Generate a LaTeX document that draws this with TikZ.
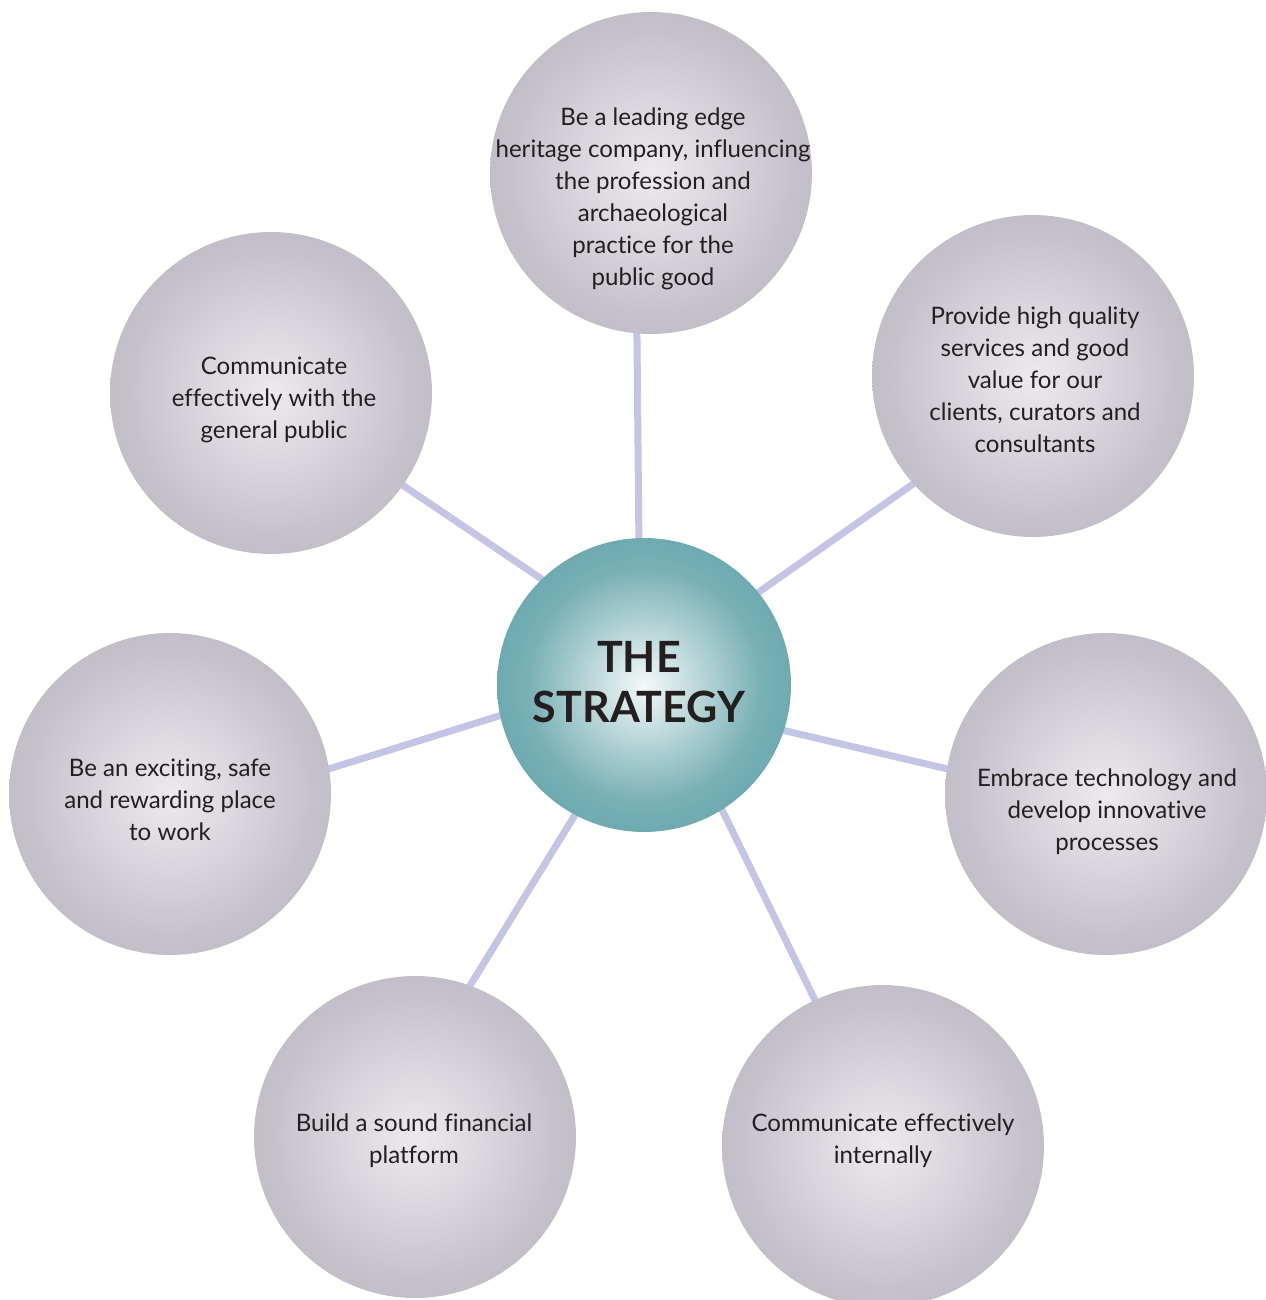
\documentclass[tikz,border=0pt]{standalone}
\usepackage{fontspec}
\setmainfont{Lato}[Ligatures=NoCommon]
\usetikzlibrary{backgrounds}
\definecolor{gc}{HTML}{ECEAEE}
\definecolor{gm}{HTML}{C6C2CC}
\definecolor{ge}{HTML}{A59FB1}
\definecolor{tc}{HTML}{F4F8F8}
\definecolor{tm}{HTML}{78B0B5}
\definecolor{te}{HTML}{3A9097}
\definecolor{linkc}{HTML}{C2C5E4}
\definecolor{txt}{HTML}{231F20}
\pgfdeclareradialshading{greyball}{\pgfpoint{0bp}{0bp}}{color(0bp)=(gc); color(22bp)=(gm); color(50bp)=(ge); color(100bp)=(ge)}
\pgfdeclareradialshading{tealball}{\pgfpoint{0bp}{0bp}}{color(0bp)=(tc); color(20bp)=(tm); color(50bp)=(te); color(100bp)=(te)}
\tikzset{
  outer/.style={circle, minimum size=6.44cm, inner sep=0pt, shading=greyball},
  hub/.style={circle, minimum size=5.88cm, inner sep=0pt, shading=tealball},
  lbl/.style={align=center, text=txt, font=\fontsize{13.7}{18.2}\selectfont, inner sep=0pt},
  ttl/.style={align=center, text=txt, font=\fontsize{24.5}{28.5}\selectfont\bfseries, inner sep=0pt},
  link/.style={draw=linkc, line width=0.14cm, shorten <=-4pt, shorten >=-4pt}
}
\begin{document}
\begin{tikzpicture}[x=0.02cm, y=-0.02cm]
\path[use as bounding box] (0,0) rectangle (1266,1300);
\clip (0,0) rectangle (1266,1300);
\node[hub] (c) at (644,685) {};
\node[outer] (t) at (651,173) {};
\node[outer] (ur) at (1033,376) {};
\node[outer] (r) at (1106,794) {};
\node[outer] (br) at (883,1146) {};
\node[outer] (bl) at (415,1137) {};
\node[outer] (l) at (170,794) {};
\node[outer] (ul) at (271,393) {};
\begin{pgfonlayer}{background}
\draw[link] (c.92.3) -- (t.265.4);
\draw[link] (c.39.9) -- (ur.222.8);
\draw[link] (c.342) -- (r.171.5);
\draw[link] (c.302.5) -- (br.115.6);
\draw[link] (c.242) -- (bl.70);
\draw[link] (c.192.7) -- (l.9.1);
\draw[link] (c.134.2) -- (ul.325);
\end{pgfonlayer}
\node[ttl] (tt) at (639,682) {THE\\STRATEGY};
\node[lbl] (tl) at (653,199) {Be a leading edge\\heritage company, influencing\\the profession and\\archaeological\\practice for the\\public good};
\node[lbl] (url) at (1035,380) {Provide high quality\\services and good\\value for our\\clients, curators and\\consultants};
\node[lbl] (rl) at (1107,812) {Embrace technology and\\develop innovative\\processes};
\node[lbl] (brl) at (883,1141) {Communicate effectively\\internally};
\node[lbl] (bll) at (414,1141) {Build a sound financial\\platform};
\node[lbl] (ll) at (170,800) {Be an exciting, safe\\and rewarding place\\to work};
\node[lbl] (ull) at (274,400) {Communicate\\effectively with the\\general public};
\end{tikzpicture}
\end{document}
